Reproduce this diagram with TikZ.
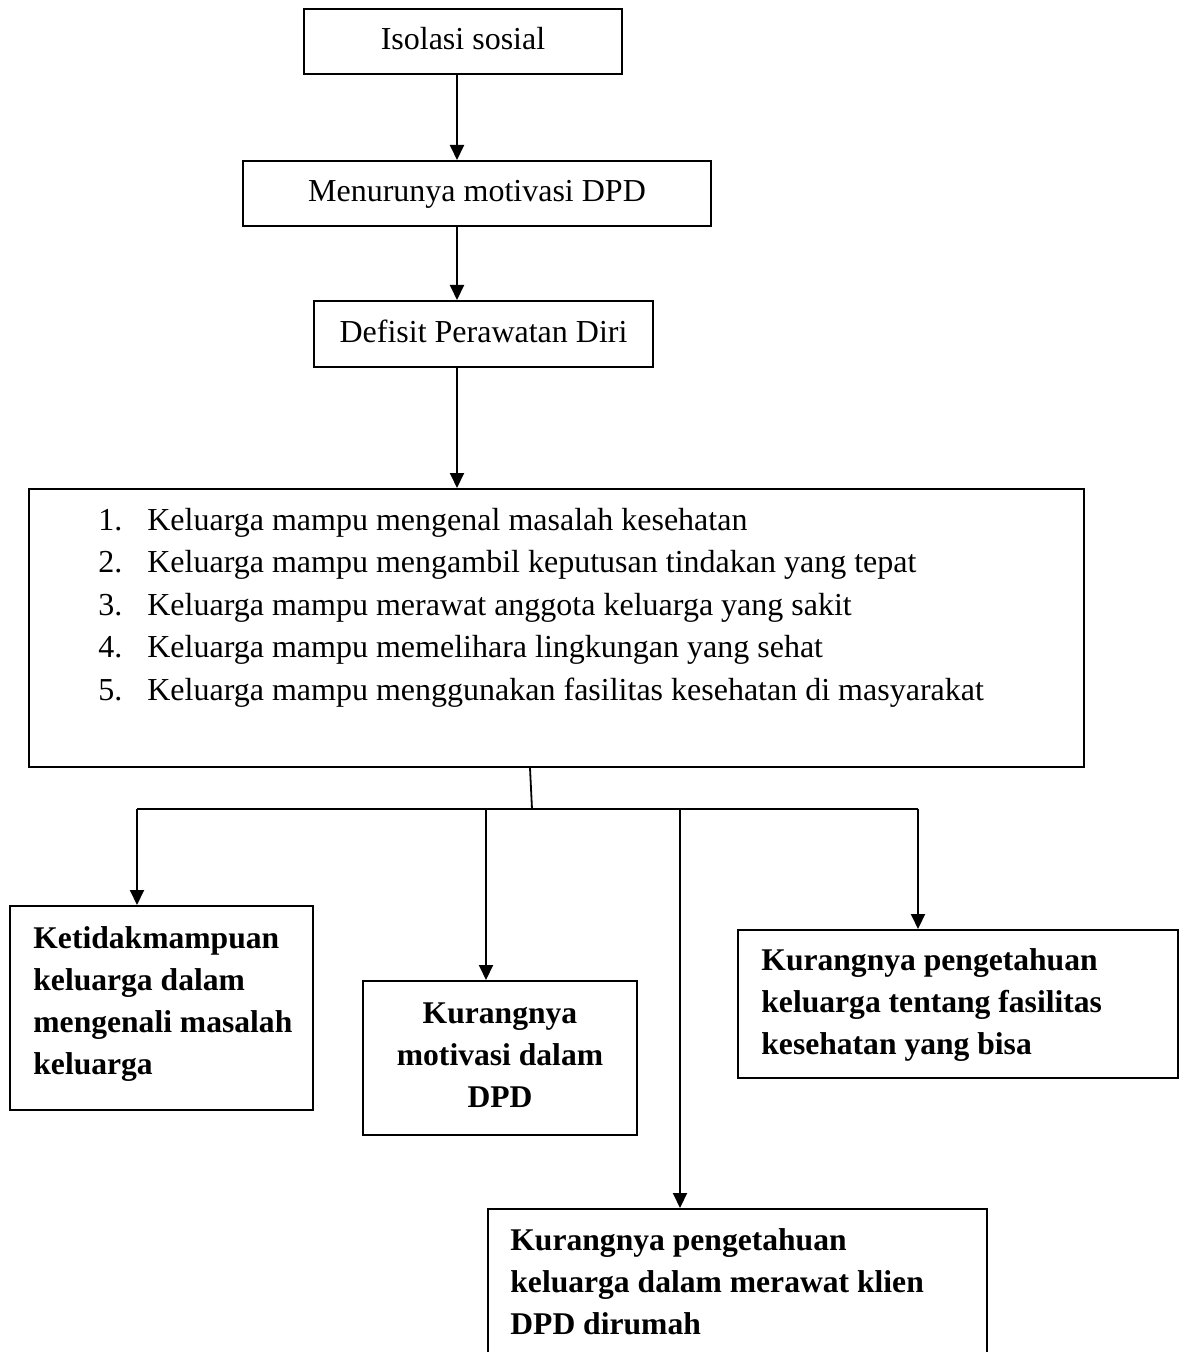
\documentclass[tikz,border=0pt]{standalone}
\usepackage{fontspec}
\setmainfont{Liberation Serif}
\usetikzlibrary{arrows.meta}
\begin{document}
\begin{tikzpicture}[x=0.5pt,y=-0.5pt,
  box/.style={draw, line width=1pt, inner sep=0pt, rectangle},
  title/.style={box, font=\fontsize{16}{21.25}\selectfont, text height=12pt, text depth=3.5pt},
  reg/.style={inner sep=0pt, font=\fontsize{16}{21.25}\selectfont},
  bld/.style={inner sep=0pt, font=\fontsize{15.8}{21}\selectfont\bfseries},
  arr/.style={line width=1pt, -{Triangle[length=7.5pt,width=7pt]}},
  ln/.style={line width=0.9pt}]
\useasboundingbox (0,0) rectangle (1187,1352);
% top chain
\node[title, minimum width=159pt, minimum height=32.5pt] (b1) at (463,41.5) {Isolasi sosial};
\node[title, minimum width=234pt, minimum height=32.5pt] (b2) at (477,193.5) {Menurunya motivasi DPD};
\node[title, minimum width=169.5pt, minimum height=33pt] (b3) at (483.5,334) {Defisit Perawatan Diri};
% list box
\node[box, minimum width=527.5pt, minimum height=139pt] (b4) at (556.5,628) {};
\node[reg, anchor=base west] (l4) at (98,530) {\begin{tabular}[t]{@{}l@{}}
\makebox[24.5pt][l]{1.}Keluarga mampu mengenal masalah kesehatan\\
\makebox[24.5pt][l]{2.}Keluarga mampu mengambil keputusan tindakan yang tepat\\
\makebox[24.5pt][l]{3.}Keluarga mampu merawat anggota keluarga yang sakit\\
\makebox[24.5pt][l]{4.}Keluarga mampu memelihara lingkungan yang sehat\\
\makebox[24.5pt][l]{5.}Keluarga mampu menggunakan fasilitas kesehatan di masyarakat
\end{tabular}};
% bottom boxes
\node[box, minimum width=151.5pt, minimum height=102pt] (b5) at (161.5,1008) {};
\node[bld, anchor=base west] (t5) at (33,948) {\begin{tabular}[t]{@{}l@{}}
Ketidakmampuan\\ keluarga dalam\\ mengenali masalah\\ keluarga\end{tabular}};
\node[box, minimum width=137pt, minimum height=77pt] (b6) at (500,1058) {};
\node[bld, anchor=base] (t6) at (500,1023) {\begin{tabular}[t]{@{}c@{}}
Kurangnya\\ motivasi dalam\\ DPD\end{tabular}};
\node[box, minimum width=249.5pt, minimum height=75pt] (b7) at (737.5,1284) {};
\node[bld, anchor=base west] (t7) at (510,1250) {\begin{tabular}[t]{@{}l@{}}
Kurangnya pengetahuan\\ keluarga dalam merawat klien\\ DPD dirumah\end{tabular}};
\node[box, minimum width=220pt, minimum height=74pt] (b8) at (958,1004) {};
\node[bld, anchor=base west] (t8) at (761,970) {\begin{tabular}[t]{@{}l@{}}
Kurangnya pengetahuan\\ keluarga tentang fasilitas\\ kesehatan yang bisa\end{tabular}};
% connectors
\coordinate (a) at (457,0);
\draw[arr] (b1.south -| a) -- (b2.north -| a);
\draw[arr] (b2.south -| a) -- (b3.north -| a);
\draw[arr] (b3.south -| a) -- (b4.north -| a);
\coordinate (s) at (530,0);
\coordinate (j) at (532,809);
\draw[ln] (b4.south -| s) -- (j);
\coordinate (hl) at (137,809);
\coordinate (hr) at (918,809);
\coordinate (h2) at (486,809);
\coordinate (h3) at (680,809);
\draw[ln] (hl) -- (hr);
\draw[arr] (hl) -- (b5.north -| hl);
\draw[arr] (h2) -- (b6.north -| h2);
\draw[arr] (h3) -- (b7.north -| h3);
\draw[arr] (hr) -- (b8.north -| hr);
\end{tikzpicture}
\end{document}
